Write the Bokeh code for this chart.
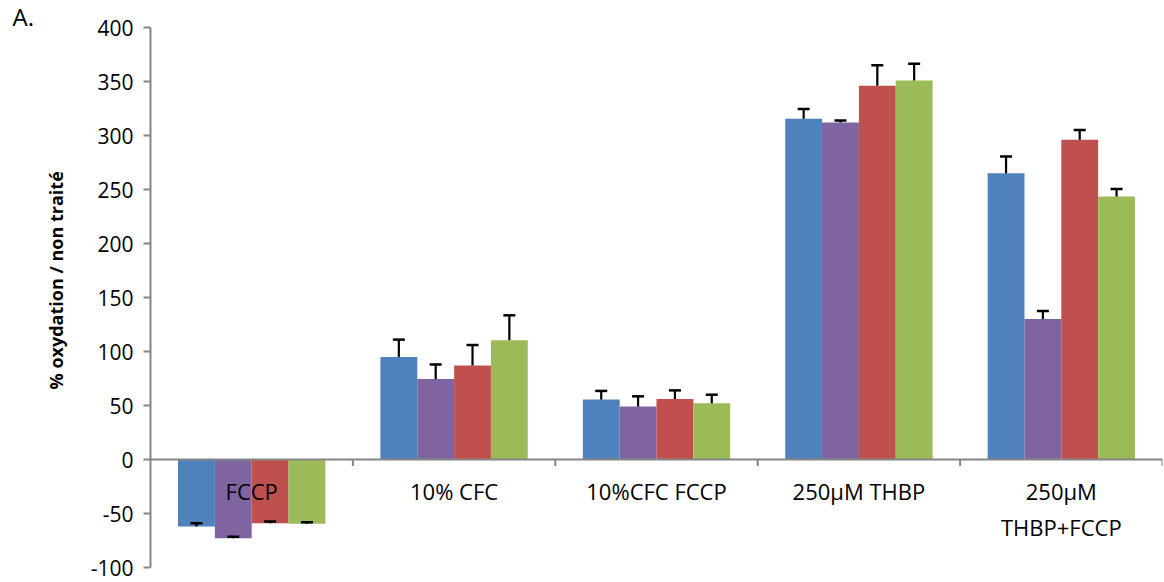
import math
from bokeh.plotting import figure
from bokeh.models import FactorRange, FixedTicker, Span, Title, ColumnDataSource
from bokeh.transform import dodge
from bokeh.core.properties import value
from bokeh.embed import file_html
from bokeh.resources import INLINE

categories = ["FCCP", "10% CFC", "10%CFC FCCP", "250µM THBP", "250µM THBP+FCCP"]
cat_labels = ["FCCP", "10% CFC", "10%CFC FCCP", "250µM THBP", "250µM\nTHBP+FCCP"]

series_blue = [-62, 95, 55.5, 315.5, 265]
err_blue = [3, 16, 8, 9, 15.5]
series_purple = [-73, 74.5, 49, 312, 130]
err_purple = [1.5, 13.5, 9.5, 2, 7.5]
series_red = [-59, 87, 56, 346, 296]
err_red = [1.5, 19, 8, 19, 9]
series_green = [-59.5, 110.5, 52, 351, 243.5]
err_green = [1.5, 23, 8, 15.5, 7]

y_ticks = [-100, -50, 0, 50, 100, 150, 200, 250, 300, 350, 400]

colors = ["#4F81BD", "#8064A2", "#C0504D", "#9BBB59"]
FONT = "Open Sans"

p = figure(x_range=FactorRange(factors=categories, range_padding=0),
           y_range=(-100, 400), width=1164, height=582,
           output_backend="svg", toolbar_location=None,
           x_axis_location=None, min_border_left=150, min_border_top=27,
           min_border_bottom=15, min_border_right=2)
p.outline_line_color = None
p.xgrid.visible = False
p.ygrid.visible = False
p.background_fill_color = "white"

bw = 0.182
offsets = [-1.5 * bw, -0.5 * bw, 0.5 * bw, 1.5 * bw]
all_series = [(series_blue, err_blue), (series_purple, err_purple),
              (series_red, err_red), (series_green, err_green)]

p.add_layout(Span(location=0, dimension="width", line_color="#868686", line_width=2))

for (vals, errs), col, off in zip(all_series, colors, offsets):
    src = ColumnDataSource(dict(cat=categories, top=vals,
                                up=[v + e for v, e in zip(vals, errs)]))
    p.vbar(x=dodge("cat", off, range=p.x_range), top="top", bottom=0, width=bw,
           source=src, fill_color=col, line_color=None)
    p.segment(x0=dodge("cat", off, range=p.x_range), y0="top",
              x1=dodge("cat", off, range=p.x_range), y1="up",
              source=src, line_color="black", line_width=2.2)
    p.scatter(x=dodge("cat", off, range=p.x_range), y="up", marker="dash",
              size=12, source=src, line_color="black", line_width=2.5)

# category boundary ticks on the zero line
tick_src = ColumnDataSource(dict(cat=categories, y0=[0] * 5, y1=[-6] * 5))
p.segment(x0=dodge("cat", 0.5, range=p.x_range), y0="y0",
          x1=dodge("cat", 0.5, range=p.x_range), y1="y1",
          source=tick_src, line_color="#868686", line_width=2)

lab_src = ColumnDataSource(dict(cat=categories, txt=cat_labels, y=[0] * 5))
p.text(x="cat", y="y", text="txt", source=lab_src, y_offset=16,
       text_align="center", text_baseline="top", text_font=value(FONT),
       text_font_size="22px", text_color="black", text_line_height=1.2)

yax = p.yaxis[0]
yax.ticker = FixedTicker(ticks=y_ticks)
yax.major_label_overrides = {-100: "-100", -50: "-50"}
yax.minor_tick_line_color = None
yax.axis_line_color = "#868686"
yax.axis_line_width = 2
yax.major_tick_line_color = "#868686"
yax.major_tick_line_width = 2
yax.major_tick_out = 7
yax.major_tick_in = 0
yax.major_label_standoff = 10
yax.major_label_text_font = FONT
yax.major_label_text_font_size = "21px"
yax.major_label_text_color = "black"

ytitle = Title(text="% oxydation / non traité", align="left", offset=178,
               standoff=40, text_font=FONT, text_font_size="18px",
               text_font_style="bold", text_color="black")
p.add_layout(ytitle, "left")

p.title.text = "A."
p.title.align = "left"
p.title.offset = -138
p.title.standoff = -10
p.title.text_font = FONT
p.title.text_font_size = "24px"
p.title.text_font_style = "normal"
p.title.text_color = "black"

open("out.html", "w").write(file_html(p, INLINE))
